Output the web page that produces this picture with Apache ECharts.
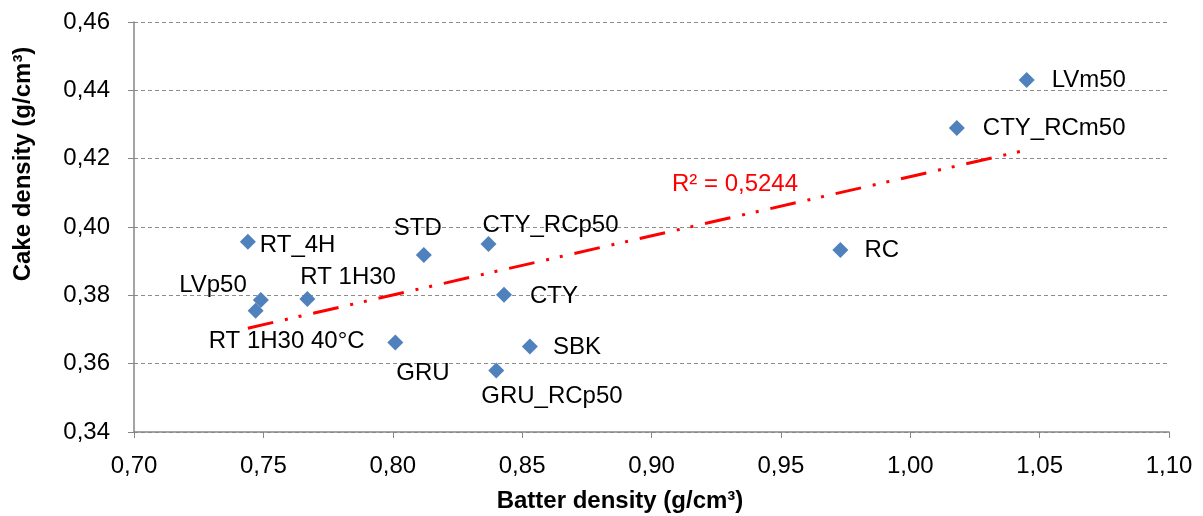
<!DOCTYPE html>
<html>
<head>
<meta charset="utf-8">
<script src="https://cdn.jsdelivr.net/npm/echarts@6/dist/echarts.min.js"></script>
<style>
html,body{margin:0;padding:0;background:#fff;}
#chart{width:1203px;height:516px;}
</style>
</head>
<body>
<div id="chart"></div>
<script>
// ---- data ----
const sampleNames = ['LVm50','CTY_RCm50','RC','CTY_RCp50','STD','RT_4H','CTY','RT 1H30','LVp50','RT 1H30 40°C','GRU','SBK','GRU_RCp50'];
const batterDensity = [1.045,1.018,0.973,0.837,0.812,0.744,0.843,0.767,0.749,0.747,0.801,0.853,0.840];
const cakeDensity   = [0.443,0.429,0.3933,0.395,0.3918,0.3957,0.3802,0.3789,0.3786,0.3755,0.3662,0.365,0.358];
const xTicks = [0.70,0.75,0.80,0.85,0.90,0.95,1.00,1.05,1.10];
const yTicks = [0.34,0.36,0.38,0.40,0.42,0.44,0.46];
const r2Text = 'R² = 0,5244';
const xTitle = 'Batter density (g/cm³)';
const yTitle = 'Cake density (g/cm³)';

// ---- label placement (style, not data) ----
const placement = {
  'LVm50':        {dx:25, dy:0,  align:'left'},
  'CTY_RCm50':    {dx:26, dy:0,  align:'left'},
  'RC':           {dx:24, dy:0,  align:'left'},
  'CTY_RCp50':    {dx:-6, dy:-19,align:'left'},
  'STD':          {dx:-6, dy:-27,align:'center'},
  'RT_4H':        {dx:12, dy:4,  align:'left'},
  'CTY':          {dx:26, dy:2,  align:'left'},
  'RT 1H30':      {dx:-7, dy:-22,align:'left'},
  'LVp50':        {dx:-14,dy:-15,align:'right'},
  'RT 1H30 40°C': {dx:109,dy:31, align:'right'},
  'GRU':          {dx:1,  dy:31, align:'left'},
  'SBK':          {dx:23, dy:1,  align:'left'},
  'GRU_RCp50':    {dx:-15,dy:26, align:'left'}
};
const SYM = 16;
const FS = 24;

// linear regression from data
const n = batterDensity.length;
const mx = batterDensity.reduce((a,b)=>a+b,0)/n;
const my = cakeDensity.reduce((a,b)=>a+b,0)/n;
let sxy=0,sxx=0;
for(let i=0;i<n;i++){sxy+=(batterDensity[i]-mx)*(cakeDensity[i]-my);sxx+=(batterDensity[i]-mx)**2;}
const slope = sxy/sxx, icpt = my - slope*mx;
const xmin = Math.min(...batterDensity), xmax = Math.max(...batterDensity);
const trend = [[xmin, icpt+slope*xmin],[xmax, icpt+slope*xmax]];

const fmt = v => v.toFixed(2).replace('.', ',');
const FONT = 'Liberation Sans, Arial, sans-serif';

const pts = sampleNames.map((nm,i)=>{
  const p = placement[nm];
  return {
    name: nm,
    value: [batterDensity[i], cakeDensity[i]],
    label: {
      show: true,
      formatter: nm,
      fontFamily: FONT, fontSize: FS, color: '#000000',
      position: [SYM/2 + p.dx, SYM/2 + p.dy],
      align: p.align,
      verticalAlign: 'middle'
    }
  };
});

const chart = echarts.init(document.getElementById('chart'), null, {renderer:'canvas'});
chart.setOption({
  animation: false,
  backgroundColor: '#ffffff',
  grid: {left:134, right:34, top:22, bottom:84, containLabel:false},
  xAxis: {
    type:'value', min:0.70, max:1.10, interval:0.05,
    axisLine:{show:true, onZero:false, lineStyle:{color:'#868686', width:1.5}},
    axisTick:{show:true, inside:false, length:6, lineStyle:{color:'#868686'}},
    axisLabel:{fontFamily:FONT, fontSize:FS, color:'#000', margin:22, formatter: v => fmt(v)},
    splitLine:{show:false}
  },
  yAxis: {
    type:'value', min:0.34, max:0.46, interval:0.02,
    axisLine:{show:true, onZero:false, lineStyle:{color:'#868686', width:1.5}},
    axisTick:{show:true, inside:false, length:6, lineStyle:{color:'#868686'}},
    axisLabel:{fontFamily:FONT, fontSize:FS, color:'#000', margin:24, formatter: v => fmt(v)},
    splitLine:{show:true, lineStyle:{color:'#8c8c8c', width:1, type:[4,3]}}
  },
  series: [
    {
      type:'line',
      data: trend,
      symbol:'none',
      silent:true,
      z:1,
      lineStyle:{color:'#ff0000', width:3, type:[26,12,3,11,3,12], cap:'butt'}
    },
    {
      type:'scatter',
      data: pts,
      symbol:'diamond',
      symbolSize: SYM,
      z:3,
      itemStyle:{color:'#4f81bd', opacity:1}
    }
  ],
  graphic: [
    {
      type:'text', x:735, y:184, z:10,
      style:{text:r2Text, fontFamily:FONT, fontSize:FS, fill:'#ff0000', align:'center', verticalAlign:'middle'}
    },
    {
      type:'text', x:620, y:501, z:10,
      style:{text:xTitle, fontFamily:FONT, fontSize:FS, fontWeight:'bold', fill:'#000', align:'center', verticalAlign:'middle'}
    },
    {
      type:'text', x:23, y:164, rotation:Math.PI/2, z:10,
      style:{text:yTitle, fontFamily:FONT, fontSize:FS, fontWeight:'bold', fill:'#000', align:'center', verticalAlign:'middle'}
    }
  ]
});
</script>
</body>
</html>
